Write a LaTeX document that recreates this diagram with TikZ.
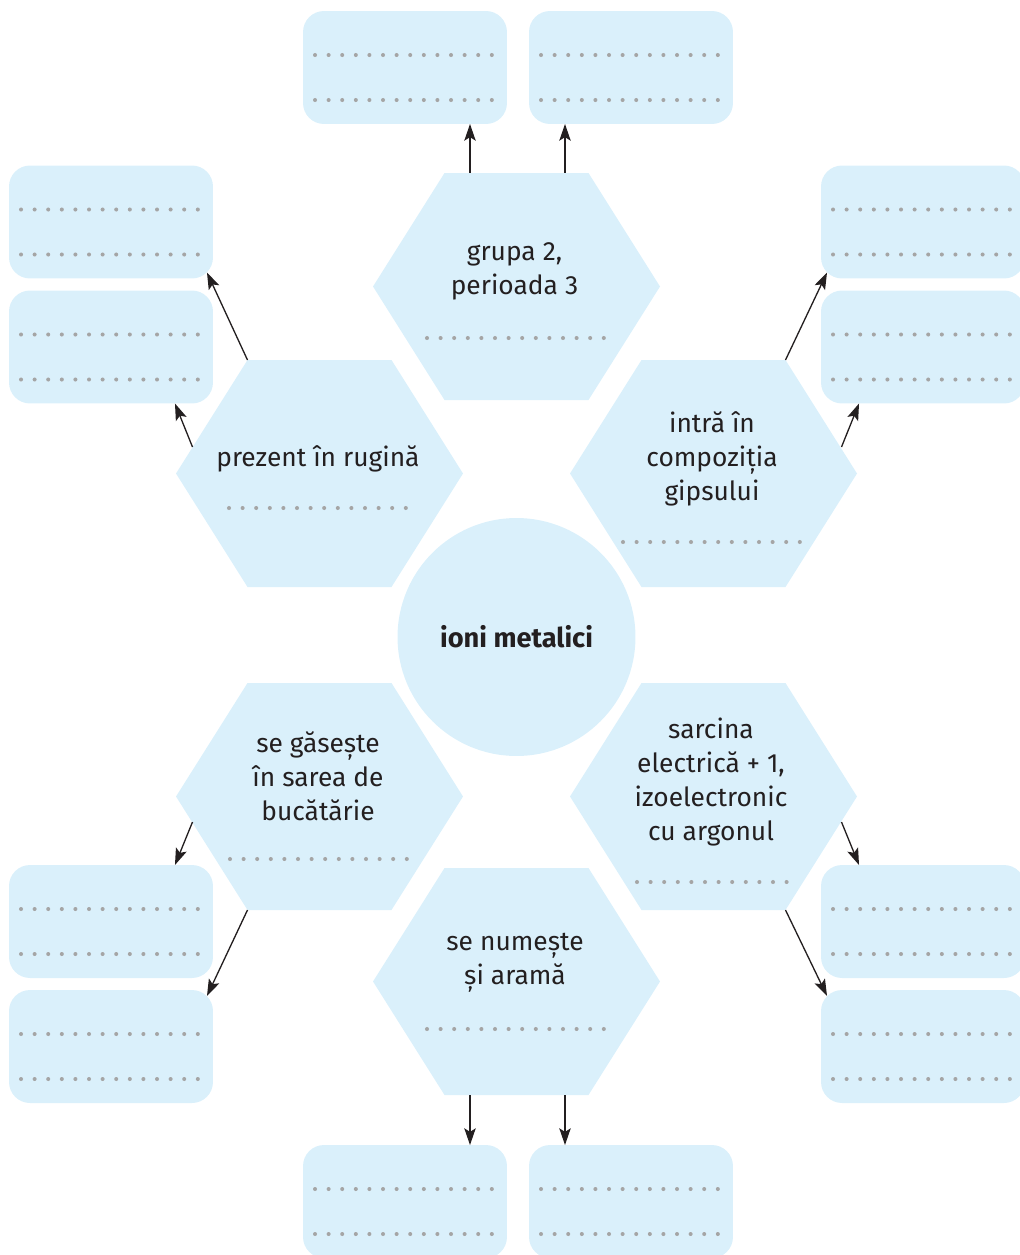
\documentclass[tikz,border=0pt]{standalone}
\usepackage{fontspec}
\setmainfont{Fira Sans}
\usetikzlibrary{arrows.meta,calc}

\definecolor{hexblue}{RGB}{218,240,251}
\definecolor{dotgrey}{RGB}{165,165,165}
\definecolor{ink}{RGB}{35,31,32}

\tikzset{
  hexfill/.style={fill=hexblue},
  hextext/.style={align=center, text=ink, inner sep=0pt,
    font=\fontsize{15}{19.3}\selectfont},
  answer/.style={fill=hexblue, rounded corners=0.42cm, minimum width=4.08cm,
    minimum height=2.26cm, inner sep=0pt, outer sep=0pt},
  centre/.style={circle, fill=hexblue, minimum size=4.76cm, inner sep=0pt,
    text=ink, font=\fontsize{15.5}{19.3}\selectfont\bfseries},
  arr/.style={-{Stealth[length=9.5pt,width=6.5pt,inset=2pt]}, line width=0.75pt, draw=ink},
}

% a row of #3 dots starting at (#1,#2)
\newcommand{\dotrow}[3]{%
  \foreach \k in {1,...,#3} \fill[dotgrey] (#1+13.6*\k-13.6,#2) circle (1.15pt);}

% the two writing lines of an answer box
\newcommand{\answerlines}[1]{%
  \foreach \k in {0,...,13} {
    \fill[dotgrey] ($(#1.north west)+(12+13.6*\k,44)$) circle (1.15pt);
    \fill[dotgrey] ($(#1.north west)+(12+13.6*\k,89)$) circle (1.15pt);
  }}

% flat topped hexagon round a centre
\newcommand{\hexagon}[1]{%
  \fill[hexfill] (#1) +(-143.5,0) -- +(-72,-113.5) -- +(72,-113.5)
    -- +(143.5,0) -- +(72,113.5) -- +(-72,113.5) -- cycle;}

\begin{document}
\begin{tikzpicture}[x=0.02cm, y=-0.02cm]
  \clip (0,0) rectangle (1020,1255);

  % hexagons round the centre
  \coordinate (cTop) at (516.5,286.5);
  \coordinate (cLU) at (319.5,473.5);
  \coordinate (cRU) at (713.5,473.5);
  \coordinate (cLL) at (319.5,796.5);
  \coordinate (cRL) at (713.5,796.5);
  \coordinate (cBot) at (516.5,981.5);
  \hexagon{cTop}
  \hexagon{cLU}
  \hexagon{cRU}
  \hexagon{cLL}
  \hexagon{cRL}
  \hexagon{cBot}

  \node[centre] (ioni) at (516.5,637) {ioni metalici};

  \node[hextext] (grupa) at (514.5,271) {grupa 2,\\perioada 3};
  \node[hextext] (rugina) at (318,459) {prezent în rugină};
  \node[hextext] (gips) at (712,459) {intră în\\compoziția\\gipsului};
  \node[hextext] (sare) at (318,776) {se găsește\\în sarea de\\bucătărie};
  \node[hextext] (sarcina) at (711,782) {sarcina\\electrică + 1,\\izoelectronic\\cu argonul};
  \node[hextext] (arama) at (515,963) {se numește\\și aramă};

  \dotrow{427}{338}{14}
  \dotrow{229}{508}{14}
  \dotrow{623}{542}{14}
  \dotrow{230}{859}{14}
  \dotrow{637}{882}{12}
  \dotrow{427}{1029}{14}

  % answer boxes
  \node[answer] (bT1) at (405,67.5) {};
  \node[answer] (bT2) at (631,67.5) {};
  \node[answer] (bL1) at (111,222) {};
  \node[answer] (bL2) at (111,347) {};
  \node[answer] (bR1) at (923,222) {};
  \node[answer] (bR2) at (923,347) {};
  \node[answer] (bL3) at (111,921.5) {};
  \node[answer] (bL4) at (111,1046.5) {};
  \node[answer] (bR3) at (923,921.5) {};
  \node[answer] (bR4) at (923,1046.5) {};
  \node[answer] (bB1) at (405,1201.5) {};
  \node[answer] (bB2) at (631,1201.5) {};
  \foreach \b in {bT1,bT2,bL1,bL2,bR1,bR2,bL3,bL4,bR3,bR4,bB1,bB2}
    \answerlines{\b};

  % arrow tails on the hexagon borders
  \coordinate (tT1) at (470,172.5);
  \coordinate (tT2) at (565,172.5);
  \coordinate (tLU1) at (247.5,360);
  \coordinate (tLU2) at (192.5,447);
  \coordinate (tRU1) at (785.5,360);
  \coordinate (tRU2) at (841.5,447);
  \coordinate (tLL1) at (192.5,822);
  \coordinate (tLL2) at (247.5,910);
  \coordinate (tRL1) at (841.5,822);
  \coordinate (tRL2) at (785.5,910);
  \coordinate (tB1) at (470,1095);
  \coordinate (tB2) at (565,1095);

  \draw[arr] (tT1) -- (tT1 |- bT1.south);
  \draw[arr] (tT2) -- (tT2 |- bT2.south);
  \draw[arr] (tLU1) -- ([shift={(-6,-6)}]bL1.south east);
  \draw[arr] (tLU2) -- ([shift={(-38,0)}]bL2.south east);
  \draw[arr] (tRU1) -- ([shift={(6,-6)}]bR1.south west);
  \draw[arr] (tRU2) -- ([shift={(38,0)}]bR2.south west);
  \draw[arr] (tLL1) -- ([shift={(-38,0)}]bL3.north east);
  \draw[arr] (tLL2) -- ([shift={(-6,6)}]bL4.north east);
  \draw[arr] (tRL1) -- ([shift={(38,0)}]bR3.north west);
  \draw[arr] (tRL2) -- ([shift={(6,6)}]bR4.north west);
  \draw[arr] (tB1) -- (tB1 |- bB1.north);
  \draw[arr] (tB2) -- (tB2 |- bB2.north);
\end{tikzpicture}
\end{document}
